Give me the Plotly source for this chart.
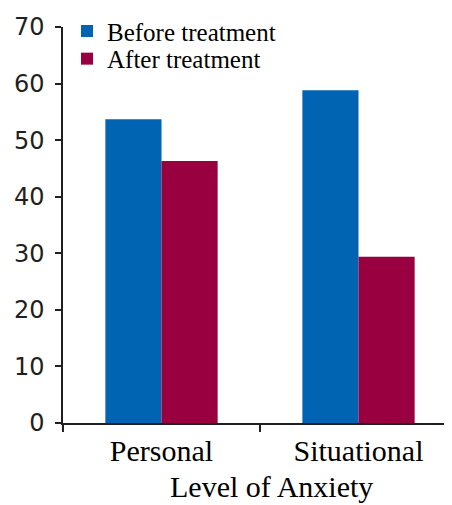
import plotly.graph_objects as go

categories = ["Personal", "Situational"]
before_values = [53.7, 58.8]
after_values = [46.3, 29.4]
series_names = ["Before treatment", "After treatment"]
y_tick_values = [0, 10, 20, 30, 40, 50, 60, 70]

BLUE = "#0064b2"
RED = "#98003f"
INK = "#231f20"

# page body has an 8px margin, so figure coordinates = screen - 8
W, H = 444, 497
L, T = 55, 15
plot_w = W - L
plot_h = 400
bottom = T + plot_h


def px_x(p):
    return (p - L) / plot_w


def px_y(p):
    return (bottom - p) / plot_h


fig = go.Figure()
fig.add_trace(go.Bar(x=categories, y=before_values, name=series_names[0],
                     marker=dict(color=BLUE, line=dict(width=0)), legend="legend"))
fig.add_trace(go.Bar(x=categories, y=after_values, name=series_names[1],
                     marker=dict(color=RED, line=dict(width=0)), legend="legend2"))

legend_font = dict(family="Liberation Serif", size=25, color="black")

fig.update_layout(
    width=W, height=H,
    margin=dict(l=L, r=0, t=T, b=H - bottom, pad=0),
    paper_bgcolor="white", plot_bgcolor="white",
    barmode="group", bargap=0.43, bargroupgap=0,
    showlegend=True,
    legend=dict(x=px_x(59), y=px_y(-4), xanchor="left", yanchor="top",
                font=legend_font, bgcolor="rgba(0,0,0,0)", itemwidth=30),
    legend2=dict(x=px_x(59), y=px_y(24), xanchor="left", yanchor="top",
                 font=legend_font, bgcolor="rgba(0,0,0,0)", itemwidth=30),
    xaxis=dict(type="category", range=[-0.5, -0.5 + plot_w / 197.0],
               showline=True, linecolor=INK, linewidth=1.5,
               ticks="outside", tickson="boundaries", ticklen=7, tickcolor=INK, tickwidth=1.5,
               showgrid=False, zeroline=False,
               tickfont=dict(family="Liberation Serif", size=30, color="black"),
               ticklabelstandoff=0),
    yaxis=dict(range=[0, 70], tickvals=y_tick_values,
               showline=True, linecolor=INK, linewidth=1.5,
               ticks="outside", ticklen=6, tickcolor=INK, tickwidth=1.5,
               showgrid=False, zeroline=False,
               tickfont=dict(family="DejaVu Sans", size=24, color=INK),
               ticklabelstandoff=6),
    annotations=[dict(text="Level of Anxiety", xref="paper", yref="paper",
                      x=px_x(263), y=px_y(460),
                      xanchor="center", yanchor="top", showarrow=False,
                      font=dict(family="Liberation Serif", size=30, color="black"))],
)

fig.write_html("out.html")
